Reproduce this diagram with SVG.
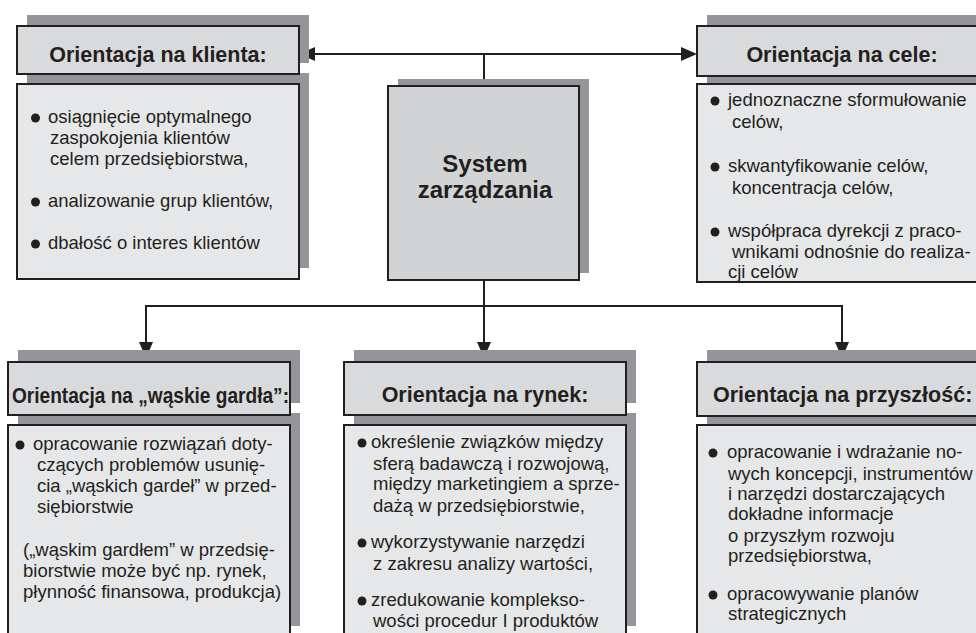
<svg xmlns="http://www.w3.org/2000/svg" width="976" height="633" viewBox="0 0 976 633">
  <defs>
    <style>
      .shadow { fill: #939598; }
      .head { fill: #d9dadb; stroke: #231f20; stroke-width: 2; }
      .body { fill: #e6e7e8; stroke: #231f20; stroke-width: 2; }
      .core { fill: #d1d3d4; stroke: #231f20; stroke-width: 2; }
      .title { font-family: "Liberation Sans", Arial, sans-serif; font-weight: bold; font-size: 21.5px; fill: #231f20; }
      .core-text { font-family: "Liberation Sans", Arial, sans-serif; font-weight: bold; font-size: 24px; fill: #231f20; text-anchor: middle; }
      .txt { font-family: "Liberation Sans", Arial, sans-serif; font-size: 18.5px; fill: #231f20; }
      .dot { fill: #231f20; }
      .wire { fill: none; stroke: #231f20; stroke-width: 2; }
    </style>
    <marker id="arrow" viewBox="0 0 16 14" markerWidth="16" markerHeight="14" refX="6" refY="7" orient="auto-start-reverse" markerUnits="userSpaceOnUse">
      <path d="M0,0 L16,7 L0,14 Z" fill="#231f20"/>
    </marker>
  </defs>

  <rect width="976" height="633" fill="#ffffff"/>

  <!-- connectors -->
  <g id="connectors">
    <path class="wire" d="M309,54 H687" marker-start="url(#arrow)" marker-end="url(#arrow)"/>
    <path class="wire" d="M484,54 V86"/>
    <path class="wire" d="M484,280 V306"/>
    <path class="wire" d="M146,306 H842"/>
    <path class="wire" d="M146,305 V348" marker-end="url(#arrow)"/>
    <path class="wire" d="M484,306 V348" marker-end="url(#arrow)"/>
    <path class="wire" d="M842,305 V348" marker-end="url(#arrow)"/>
  </g>

  <!-- central node -->
  <g id="system">
    <rect class="shadow" x="398" y="79" width="191" height="194"/>
    <rect class="core" x="388" y="86" width="191" height="194"/>
    <text class="core-text" x="485" y="172">System</text>
    <text class="core-text" x="485" y="198">zarządzania</text>
  </g>

  <!-- customer orientation -->
  <g id="klient">
    <rect class="shadow" x="27" y="15" width="282" height="48"/>
    <rect class="shadow" x="27" y="73" width="282" height="195"/>
    <rect class="head" x="17" y="26" width="282" height="48"/>
    <rect class="body" x="17" y="84" width="282" height="195"/>
    <text class="title" x="158" y="62" text-anchor="middle">Orientacja na klienta:</text>
    <circle class="dot" cx="35.5" cy="118" r="4.5"/>
    <text class="txt" x="48" y="123">osiągnięcie optymalnego</text>
    <text class="txt" x="50" y="144">zaspokojenia klientów</text>
    <text class="txt" x="50" y="165">celem przedsiębiorstwa,</text>
    <circle class="dot" cx="35.5" cy="202" r="4.5"/>
    <text class="txt" x="48" y="207">analizowanie grup klientów,</text>
    <circle class="dot" cx="35.5" cy="244" r="4.5"/>
    <text class="txt" x="48" y="249">dbałość o interes klientów</text>
  </g>

  <!-- goal orientation -->
  <g id="cele">
    <rect class="shadow" x="707" y="15" width="282" height="50"/>
    <rect class="shadow" x="707" y="73" width="282" height="198"/>
    <rect class="head" x="697" y="26" width="282" height="50"/>
    <rect class="body" x="697" y="84" width="282" height="198"/>
    <text class="title" x="842" y="62" text-anchor="middle">Orientacja na cele:</text>
    <circle class="dot" cx="715" cy="101" r="4.5"/>
    <text class="txt" x="728" y="106">jednoznaczne sformułowanie</text>
    <text class="txt" x="732" y="128">celów,</text>
    <circle class="dot" cx="715" cy="167" r="4.5"/>
    <text class="txt" x="728" y="172">skwantyfikowanie celów,</text>
    <text class="txt" x="732" y="194">koncentracja celów,</text>
    <circle class="dot" cx="715" cy="232" r="4.5"/>
    <text class="txt" x="728" y="237">współpraca dyrekcji z praco-</text>
    <text class="txt" x="732" y="258">wnikami odnośnie do realiza-</text>
    <text class="txt" x="728" y="278">cji celów</text>
  </g>

  <!-- bottleneck orientation -->
  <g id="waskie-gardla">
    <rect class="shadow" x="18" y="350" width="282" height="53"/>
    <rect class="shadow" x="18" y="413" width="282" height="213"/>
    <rect class="head" x="8" y="362" width="282" height="53"/>
    <rect class="body" x="8" y="425" width="282" height="220"/>
    <text class="title" x="12" y="403" textLength="277" lengthAdjust="spacingAndGlyphs">Orientacja na „wąskie gardła”:</text>
    <circle class="dot" cx="20" cy="445" r="4.5"/>
    <text class="txt" x="33" y="450">opracowanie rozwiązań doty-</text>
    <text class="txt" x="37" y="471">czących problemów usunię-</text>
    <text class="txt" x="37" y="492">cia „wąskich gardeł” w przed-</text>
    <text class="txt" x="37" y="513">siębiorstwie</text>
    <text class="txt" x="23" y="556">(„wąskim gardłem” w przedsię-</text>
    <text class="txt" x="23" y="577">biorstwie może być np. rynek,</text>
    <text class="txt" x="23" y="598">płynność finansowa, produkcja)</text>
  </g>

  <!-- market orientation -->
  <g id="rynek">
    <rect class="shadow" x="354" y="350" width="282" height="53"/>
    <rect class="shadow" x="354" y="413" width="282" height="213"/>
    <rect class="head" x="344" y="362" width="282" height="53"/>
    <rect class="body" x="344" y="425" width="282" height="220"/>
    <text class="title" x="485" y="402" text-anchor="middle">Orientacja na rynek:</text>
    <circle class="dot" cx="362" cy="443" r="4.5"/>
    <text class="txt" x="371" y="448">określenie związków między</text>
    <text class="txt" x="373" y="470">sferą badawczą i rozwojową,</text>
    <text class="txt" x="373" y="490">między marketingiem a sprze-</text>
    <text class="txt" x="373" y="512">dażą w przedsiębiorstwie,</text>
    <circle class="dot" cx="362" cy="543" r="4.5"/>
    <text class="txt" x="371" y="548">wykorzystywanie narzędzi</text>
    <text class="txt" x="373" y="570">z zakresu analizy wartości,</text>
    <circle class="dot" cx="362" cy="601" r="4.5"/>
    <text class="txt" x="371" y="606">zredukowanie komplekso-</text>
    <text class="txt" x="373" y="627">wości procedur I produktów</text>
  </g>

  <!-- future orientation -->
  <g id="przyszlosc">
    <rect class="shadow" x="707" y="350" width="282" height="54"/>
    <rect class="shadow" x="707" y="413" width="282" height="220"/>
    <rect class="head" x="697" y="362" width="282" height="54"/>
    <rect class="body" x="697" y="425" width="282" height="220"/>
    <text class="title" x="713" y="402">Orientacja na przyszłość:</text>
    <circle class="dot" cx="713" cy="453" r="4.5"/>
    <text class="txt" x="727" y="458">opracowanie i wdrażanie no-</text>
    <text class="txt" x="728" y="480">wych koncepcji, instrumentów</text>
    <text class="txt" x="728" y="500">i narzędzi dostarczających</text>
    <text class="txt" x="728" y="520">dokładne informacje</text>
    <text class="txt" x="728" y="542">o przyszłym rozwoju</text>
    <text class="txt" x="728" y="562">przedsiębiorstwa,</text>
    <circle class="dot" cx="713" cy="595" r="4.5"/>
    <text class="txt" x="727" y="600">opracowywanie planów</text>
    <text class="txt" x="728" y="620">strategicznych</text>
  </g>
</svg>
